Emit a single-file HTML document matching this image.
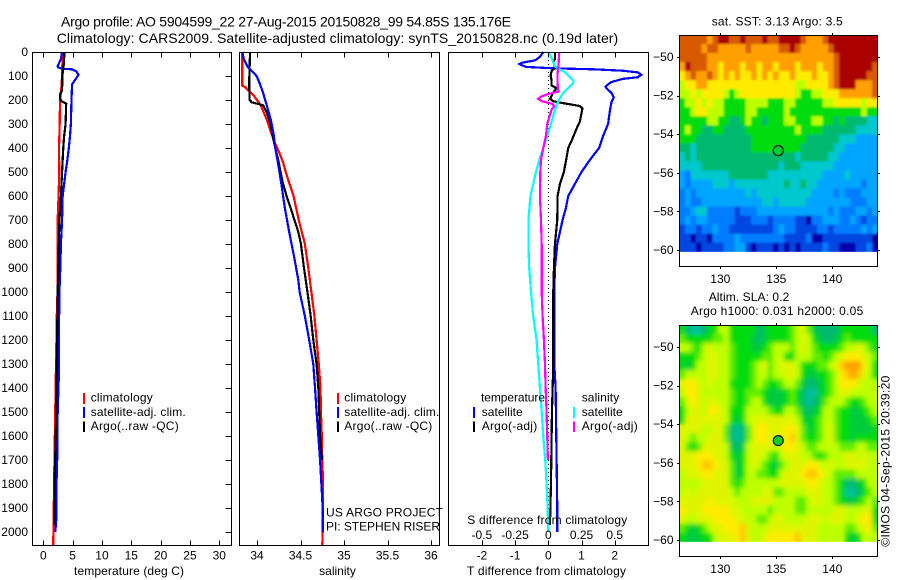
<!DOCTYPE html>
<html>
<head>
<meta charset="utf-8">
<title>Argo profile</title>
<style>
html,body{margin:0;padding:0;background:#fff;width:900px;height:580px;overflow:hidden}
svg{display:block}
text{font-family:"Liberation Sans",sans-serif;font-size:12px;fill:#000}
.t{font-size:14px}
.m{text-anchor:middle}
.e{text-anchor:end}
</style>
</head>
<body>
<svg id="chart" width="900" height="580" viewBox="0 0 900 580" xmlns="http://www.w3.org/2000/svg">
<defs>
<clipPath id="clip-map-sst"><rect x="679.5" y="35.5" width="198" height="216.2"/></clipPath>
<clipPath id="clip-map-sla"><rect x="679.5" y="325.5" width="198" height="216.2"/></clipPath>
<filter id="soft" x="-5%" y="-5%" width="110%" height="110%"><feGaussianBlur stdDeviation="2.4"/></filter>
<filter id="soft-small" x="-5%" y="-5%" width="110%" height="110%"><feGaussianBlur stdDeviation="1.1"/></filter>
</defs>
<text class="t" x="61" y="26.7" textLength="450">Argo profile: AO 5904599_22 27-Aug-2015 20150828_99 54.85S 135.176E</text>
<text class="t" x="56.7" y="43" textLength="561.5">Climatology: CARS2009. Satellite-adjusted climatology: synTS_20150828.nc (0.19d later)</text>

<g id="lines-layer"></g>
<g id="axes-layer"></g>

<text class="m" x="129" y="575" textLength="110">temperature (deg C)</text>
<text class="m" x="337.5" y="575">salinity</text>
<text class="m" x="546.5" y="575" textLength="159">T difference from climatology</text>
<text x="467.3" y="524" textLength="160">S difference from climatology</text>

<g>
<rect x="83" y="393" width="2" height="11" fill="#f00"/>
<rect x="83" y="407" width="2" height="11" fill="#00f"/>
<rect x="83" y="421.5" width="2" height="10.5" fill="#000"/>
<text x="90.7" y="401.7" textLength="62">climatology</text>
<text x="90.7" y="416" textLength="95">satellite-adj. clim.</text>
<text x="90.7" y="430" textLength="88">Argo(..raw -QC)</text>
</g>
<g>
<rect x="337" y="393" width="2" height="11" fill="#f00"/>
<rect x="337" y="407" width="2" height="11" fill="#00f"/>
<rect x="337" y="421.5" width="2" height="10.5" fill="#000"/>
<text x="344.3" y="401.7" textLength="62">climatology</text>
<text x="344.3" y="416" textLength="95">satellite-adj. clim.</text>
<text x="344.3" y="430" textLength="88">Argo(..raw -QC)</text>
</g>
<text x="326" y="516.7" textLength="117">US ARGO PROJECT</text>
<text x="326" y="530.7" textLength="114">PI: STEPHEN RISER</text>
<g>
<text x="481" y="401.7" textLength="64">temperature</text>
<text x="581.7" y="401.7" textLength="37.5">salinity</text>
<rect x="473" y="407" width="2" height="11" fill="#00f"/>
<rect x="473" y="421.5" width="2" height="10.5" fill="#000"/>
<rect x="573" y="407" width="2" height="11" fill="#0ff"/>
<rect x="573" y="421.5" width="2" height="10.5" fill="#f0f"/>
<text x="481.7" y="416" textLength="41">satellite</text>
<text x="481.7" y="430" textLength="55.5">Argo(-adj)</text>
<text x="581.7" y="416" textLength="41">satellite</text>
<text x="581.7" y="430" textLength="56">Argo(-adj)</text>
</g>

<g clip-path="url(#clip-map-sst)"><g id="sst-cells"></g><use href="#sst-cells" filter="url(#soft-small)"/></g>
<g clip-path="url(#clip-map-sla)"><g id="sla-cells"></g><use href="#sla-cells" filter="url(#soft)"/></g>
<g id="map-axes"></g>

<text x="711.7" y="25.7" textLength="131">sat. SST: 3.13 Argo: 3.5</text>
<text x="708.7" y="301" textLength="80.6">Altim. SLA: 0.2</text>
<text x="690.7" y="315" textLength="172.6">Argo h1000: 0.031 h2000: 0.05</text>
<text x="889.3" y="546.7" transform="rotate(-90 889.3 546.7)" textLength="171">©IMOS 04-Sep-2015 20:39:20</text>
</svg>

<script>
// ---- profile data ----
const depthTicks = [0,100,200,300,400,500,600,700,800,900,1000,1100,1200,1300,1400,1500,1600,1700,1800,1900,2000];
const tempTicks = [0,5,10,15,20,25,30];
const salTicks = [34,34.5,35,35.5,36];
const salTickLabels = ["34","34.5","35","35.5","36"];
const dTTicks = [-2,-1,0,1,2];
const dSTicks = [-0.5,-0.25,0,0.25,0.5];
const dSTickLabels = ["-0.5","-0.25","0","0.25","0.5"];

const tempClimDepth = [0,100,150,200,300,400,500,600,700,800,1000,1100,1400,1700,2000,2056];
const tempClimValue = [3.3,3.2,3.07,2.85,2.79,2.68,2.72,2.6,2.45,2.42,2.42,2.3,2.1,1.9,1.72,1.7];
const tempSatDepth = [0,30,60,65,70,72,80,95,110,135,200,300,350,400,450,500,550,600,700,800,900,1000,1100,1350,1500,1650,1800,1950,2000];
const tempSatValue = [3.2,3.0,2.43,2.6,3.3,4.9,5.6,6.0,5.6,4.9,4.8,4.7,4.55,4.35,4.1,3.8,3.55,3.3,3.2,3.0,2.9,2.75,2.7,2.65,2.45,2.42,2.25,2.2,2.05];
const tempArgoDepth = [0,50,100,160,175,195,205,215,300,350,400,500,600,700,800,900,1000,1200,1400,1600,1800,1970];
const tempArgoValue = [3.6,3.5,3.25,3.2,2.9,2.85,3.1,3.9,3.8,3.55,3.4,3.2,3.0,2.75,2.65,2.55,2.45,2.35,2.25,2.12,1.92,1.92];

const salClimDepth = [0,140,145,160,180,220,280,330,380,420,460,500,600,700,800,900,1000,1100,1200,1300,1400,1500,1600,1700,1800,2000,2056];
const salClimValue = [33.83,33.83,33.86,33.9,33.96,34.04,34.11,34.157,34.207,34.257,34.3,34.33,34.42,34.48,34.55,34.59,34.625,34.66,34.685,34.71,34.73,34.735,34.745,34.75,34.76,34.755,34.75];
const salSatDepth = [0,30,60,80,100,130,170,220,280,340,400,460,550,650,750,850,950,1000,1100,1200,1300,1400,1500,1600,1700,1800,1900,2000];
const salSatValue = [33.83,33.85,33.89,33.94,33.995,34.03,34.07,34.11,34.157,34.19,34.21,34.24,34.28,34.32,34.37,34.425,34.475,34.49,34.55,34.6,34.647,34.667,34.685,34.705,34.725,34.74,34.755,34.755];
const salArgoDepth = [0,130,200,210,215,222,250,300,350,400,450,500,550,600,650,700,750,800,900,1000,1100,1200,1300,1400,1500,1600,1700];
const salArgoValue = [33.92,33.91,33.915,33.94,34,34.07,34.11,34.157,34.18,34.21,34.245,34.27,34.3,34.34,34.387,34.43,34.475,34.505,34.54,34.58,34.617,34.647,34.685,34.705,34.715,34.725,34.747];

const dTSatDepth = [0,20,35,45,50,55,62,68,72,78,85,95,105,112,125,135,145,155,170,190,210,250,300,350,400,450,500,550,600,650,700,800,900,1000,1300,1400,1700,1900,2000];
const dTSatValue = [-0.15,-0.25,-0.4,-0.8,-0.87,-0.8,-0.67,0.15,1.35,2.25,2.7,2.8,2.7,2.25,1.9,1.8,1.72,1.78,1.9,1.97,1.9,1.85,1.8,1.65,1.53,1.25,1.0,0.8,0.6,0.53,0.43,0.27,0.2,0.18,0.18,0.22,0.25,0.27,0.27];
const dTArgoDepth = [0,30,40,65,80,95,120,140,150,170,195,205,212,225,235,290,320,370,400,440,500,550,600,700,800,900,1000,1300,1500,1800,1970];
const dTArgoValue = [0.2,0.2,0.15,0.2,0.1,0.07,0.1,0.1,0.25,0.15,0.05,0.15,0.4,0.95,1.03,0.95,0.85,0.7,0.6,0.55,0.47,0.35,0.28,0.27,0.2,0.17,0.15,0.15,0.11,0.08,0.05];
const dSSatDepth = [0,20,60,85,105,120,132,150,170,190,220,250,300,350,400,450,500,600,700,800,900,1000,1100,1200,1300,1400,1500,1600,1700,1800,1900,2000];
const dSSatValue = [0,0.02,0.05,0.126,0.164,0.19,0.184,0.15,0.114,0.09,0.063,0.045,0.02,-0.008,-0.038,-0.068,-0.093,-0.134,-0.15,-0.15,-0.144,-0.13,-0.114,-0.088,-0.076,-0.063,-0.05,-0.038,-0.023,-0.013,-0.005,0];
const dSArgoDepth = [0,60,90,130,165,175,185,195,205,215,225,240,270,300,350,400,450,500,600,700,800,900,1000,1100,1200,1300,1400,1500,1600,1700];
const dSArgoValue = [0.083,0.076,0.07,0.07,0.076,0,-0.05,-0.076,-0.05,0.025,0.045,0.025,0.008,-0.008,-0.018,-0.038,-0.055,-0.06,-0.063,-0.055,-0.05,-0.05,-0.05,-0.043,-0.033,-0.025,-0.02,-0.013,-0.008,-0.003];

// ---- map data (colour-level per cell) ----
const mapLonTicks = [130,135,140];
const mapLatTicks = [-50,-52,-54,-56,-58,-60];
const floatLon = 135.176;
const floatLat = -54.85;
const colorStops = ["0,0,170","0,70,225","0,125,255","0,165,255","0,200,205","0,185,110","0,220,10","190,255,0","255,235,0","255,160,0","215,90,0","170,0,0"];
const sstLevels = [
[10,10,10,10,10,9,10,11,11,10,10,11,10,10,10,11,10,10,11,11,11,11,10,9,9,9,10,11,11,11,11,11,11,11,11,11],
[10,10,10,10,9,10,10,9,9,9,9,9,10,9,9,9,9,9,10,10,11,10,9,9,9,9,9,10,11,11,11,11,11,11,11,11],
[10,10,10,10,10,9,9,9,9,9,9,9,9,9,9,9,9,9,9,9,9,9,9,9,9,9,9,9,10,11,11,11,11,11,11,11],
[9,11,10,10,10,9,9,8,9,9,9,8,9,9,8,9,9,8,9,9,9,8,9,9,9,8,9,9,10,11,11,11,11,11,11,10],
[8,9,10,9,9,10,9,8,9,8,9,8,8,9,8,9,8,9,8,8,9,8,8,8,9,8,8,9,10,11,11,11,11,11,10,10],
[7,8,8,9,9,8,8,8,8,8,8,8,8,8,8,8,8,8,8,8,8,7,7,8,8,8,8,9,10,11,11,11,9,9,9,10],
[7,7,8,7,8,8,8,8,7,6,7,8,8,8,8,8,8,8,8,8,8,7,6,6,7,7,8,8,8,9,9,9,9,9,9,10],
[6,7,7,8,7,8,7,7,6,6,6,6,7,7,7,7,6,6,6,7,7,6,6,6,6,6,7,7,8,8,8,8,8,7,8,8],
[6,6,7,8,8,7,7,7,6,6,6,6,7,7,6,6,6,6,6,7,6,6,6,6,6,6,6,6,6,6,6,6,6,7,6,6],
[6,6,6,6,6,7,7,6,6,5,5,6,7,6,6,5,6,6,6,7,7,6,6,6,7,7,6,6,5,6,5,5,5,5,4,4],
[6,7,6,6,5,5,6,6,5,5,5,5,6,6,6,6,6,6,6,6,6,7,6,6,6,6,5,5,5,5,5,5,4,4,4,4],
[6,6,6,5,5,5,5,5,5,5,5,5,5,6,6,6,6,6,6,6,6,6,6,5,5,5,5,5,5,4,4,4,3,3,3,3],
[5,5,4,5,5,5,5,5,5,5,5,5,5,6,6,6,6,6,6,6,6,6,5,5,5,5,5,5,4,4,3,3,3,3,3,3],
[4,5,4,5,5,5,5,5,5,5,5,5,5,5,5,5,5,5,5,5,5,4,5,5,5,5,5,4,4,3,3,3,3,3,3,3],
[4,4,4,4,5,5,5,5,5,5,5,5,5,5,5,5,5,5,4,5,5,5,4,4,4,4,4,4,3,3,3,3,3,3,3,3],
[3,2,4,4,4,4,4,4,4,5,5,5,5,5,5,5,4,4,4,4,4,4,4,4,4,4,3,3,3,3,4,3,3,3,3,3],
[3,2,3,3,3,3,4,4,4,3,4,4,4,4,4,4,4,4,4,5,4,4,5,4,4,3,3,3,3,3,3,3,3,2,3,3],
[2,3,2,3,3,3,3,3,3,3,3,3,4,3,4,4,4,4,4,4,4,4,4,4,3,3,3,3,2,3,2,2,2,3,3,3],
[2,3,2,2,3,3,3,3,3,3,3,3,3,3,3,4,4,3,4,4,4,4,4,3,3,3,3,3,3,3,3,2,2,2,3,3],
[2,2,3,4,4,2,2,2,2,2,1,2,2,2,3,3,3,3,3,3,3,3,3,3,3,3,3,2,3,2,2,2,3,3,2,3],
[2,3,2,3,3,2,2,2,2,2,1,1,1,2,2,2,1,2,2,2,2,1,1,0,2,2,3,3,3,2,2,3,2,1,2,2],
[1,2,2,1,2,2,3,2,2,1,1,1,1,1,1,1,1,2,3,2,2,1,1,1,1,2,2,1,2,2,2,2,2,3,2,3],
[1,1,0,1,1,0,2,2,2,2,3,2,2,2,2,2,2,2,2,1,1,1,1,2,0,0,1,1,1,1,1,1,1,1,1,0],
[1,1,1,0,1,1,1,1,2,2,3,3,1,0,1,1,1,0,1,0,1,0,1,1,1,1,2,1,1,0,0,0,1,1,2,0]
];
const slaLevels = [
[6,5,4.5,4.5,5,6,6,7,7,6,6,6,6,6,5,5.5,6,6,6,6,6.5,7,7.5,6.5,5.5,5,5,5,5,6,6,6,6,6,6,5],
[6.5,6,6,6,6,6,6.5,6.5,7,6,6,6,6,5.5,5,5.5,6,6,6,6,6.5,7,7.5,7,6,5.5,5,5,5.5,6,6.5,6,6,6,6,6],
[7,7,6.5,6,7,7.5,7,7,7,6.5,6,6,6,5.5,5.5,6,6.5,7,7,7,6.5,7,7.5,7,6.5,6,6,6,6,6.5,7,7,7.5,7,6.5,6],
[6,6,6,6.5,7,7.5,7.5,7,7,6.5,6,6,6,6,6,6.5,6.5,7,7,6,6,7,7,7,6.5,6.5,6,6.5,7,7.5,8,8,8,7.5,7,6.5],
[6,5.5,6,7,7,7.5,7.5,7,7,6.5,6,6,6,6.5,7,7.5,6.5,7,7.5,7.5,7.5,7,6,6,6,6.5,6.5,7,7.5,8.5,9,9,9,8,7,6],
[6.5,7,7,7,7,7.5,7.5,7,7,6.5,6,6,6,6.5,7,7,6.5,7,7,7.5,7.5,7,6,5.5,5.5,6,6,6.5,7,8,8.5,9,8.5,7.5,7,6],
[7.5,8,8,7.5,7,7.5,7,7,7,6,6,6,6,6.5,7,6.5,6,6,6.5,7,7,6.5,5.5,5,5,5.5,6,6.5,7,8,8,8,7.5,7,7,7],
[7,8,8,7.5,7,7,7,7,7,6.5,6,6,6.5,6.5,6.5,6,5.5,5.5,5.5,6,6.5,6,5,4.5,4.5,5.5,6,6.5,7,7.5,7.5,7,7,7,7,7],
[6.5,7.5,8,7.5,7,7.5,7.5,7,7,6.5,6,6,6.5,7,7,6,5.5,5.5,5.5,6,6.5,6,5,4.5,5,5.5,6.5,7,7,7,6.5,6,6,6.5,7,7],
[6,7,7.5,7.5,7,8,8,7.5,7,6,6,6,7,7,7,7,6.5,6,6,7,7,6.5,5.5,5,5.5,6,7,7,6.5,6,6,5.5,5.5,6,6.5,7],
[6,7.5,7.5,7.5,7.5,7.5,7.5,7.5,7,6,5.5,6,7,7.5,7.5,7.5,7.5,7.5,7.5,7.5,7.5,7,6,5.5,6,6.5,7,7,6.5,6,6,5.5,5.5,5.5,6,6.5],
[7.5,7.5,7.5,7.5,7,7,7.5,7.5,6.5,5,4.5,5,6.5,7.5,8,8,7.5,7.5,7.5,8,8,7.5,6.5,5.5,6,6.5,7,7.5,6.5,6,6,5.5,5.5,5.5,5.5,6],
[7.5,7,6.5,7,7,7.5,7.5,7.5,6.5,5,4.5,5,6.5,7.5,8,8,7.5,7.5,7.5,8,8.5,7.5,6.5,6,6,6.5,7,7.5,6.5,6,6,5.5,6,6,6,6],
[7.5,6.5,6,6.5,7.5,7.5,7.5,7.5,7,5.5,5,5.5,7,7.5,7.5,7.5,7.5,7,7.5,8,8,7.5,7,6.5,6.5,7,7,7,7,6.5,6.5,6.5,7,7,6.5,6.5],
[7.5,7.5,7.5,8,8,8,7.5,7.5,7,6,5.5,6,7,7.5,7.5,7,6.5,6,7,7.5,7.5,7.5,7,7,6.5,6,6.5,7,7,7,7.5,7.5,7,7.5,7,7],
[7.5,7.5,7.5,8,8.5,8.5,8,7.5,7.5,6.5,5.5,6,7,7.5,7,6.5,6,5.5,6.5,7,7.5,7.5,7.5,8,8,7.5,7,7.5,7,7,7.5,7.5,7.5,7.5,7,7],
[7,7.5,7.5,7.5,8,8,7.5,7.5,7.5,6.5,5.5,6,7,7,6.5,6.5,6,6,7,7.5,7.5,7.5,8,8.5,8.5,8,7.5,7,6.5,6.5,6.5,6.5,7,7,7,7],
[7,7,7,7,7.5,7.5,7.5,7.5,7.5,6.5,6,6.5,7,7,7,7,7,7,7.5,7.5,7.5,7.5,7.5,8,8,7.5,7,7,6.5,6,5,5,5.5,6,7,7],
[7,7.5,7,7.5,7.5,7.5,7.5,7.5,7.5,7,6.5,7,7,7,7,7.5,7.5,6.5,6.5,7,7,7,7,7.5,7.5,7.5,7,7,6.5,6,4.5,4.5,5,6,6.5,7],
[7.5,7.5,7.5,7.5,7.5,8,7.5,7.5,7.5,7.5,7,7,7,7.5,7.5,7.5,7.5,7,7,7,7,6.5,6.5,7,7.5,7.5,7,7,6.5,6,5.5,5.5,6,6.5,7,6.5],
[8,7.5,7.5,7.5,8,8,8,8,8,7.5,7.5,7,7,7,7,7,6.5,7,7,7,7,6.5,6.5,7,7,7,7,7,7.5,7.5,7,7,7,7.5,7.5,6],
[7.5,7,7,7.5,7.5,7.5,8,8,8,8,7.5,7.5,7,7,6.5,6.5,7,7.5,7.5,7,7,7,7,7.5,7.5,7.5,7,7.5,7.5,7.5,7,7,7.5,8,8,6],
[6.5,6,5.5,6,6.5,7,7.5,7.5,8,8,8,8.5,7.5,7,7,7,7.5,7.5,7.5,7.5,7.5,7.5,7.5,7.5,7.5,7,7,7,7,7,6.5,6.5,7,7.5,8,6.5],
[6,5.5,5.5,5.5,6,6,7,7.5,7.5,7.5,8,8.5,7.5,7,7,7.5,8,8,8,8,8,8.5,7.5,7.5,7.5,7,7,7,7,7,6,5.5,6,7,7,7]
];

// ---- axis functions ----
const SVGNS = "http://www.w3.org/2000/svg";
const yDepth = d => 52 + d * 0.24;
const xTemp = v => 43.3 + v * 5.867;
const xSal = v => 257 + (v - 34) * 87;
const xDT = v => 548.3 + v * 33.2;
const xDS = v => 548.3 + v * 132.8;
const xLon = v => 776.3 + (v - 135) * 11.2;
const yLatSst = v => 57 + (-50 - v) * 19.3;
const yLatSla = v => 347 + (-50 - v) * 19.3;

function make(tag, parent, props) {
  const el = document.createElementNS(SVGNS, tag);
  for (const k in props) el.setAttribute(k, props[k]);
  parent.appendChild(el);
  return el;
}
function drawLine(parent, depths, values, xf, color, name) {
  const pts = depths.map((d, i) => xf(values[i]).toFixed(2) + "," + yDepth(d).toFixed(2)).join(" ");
  const el = make("polyline", parent, {points: pts, fill: "none", stroke: color, "stroke-width": 2.2, "stroke-linejoin": "miter", "shape-rendering": "crispEdges"});
  
  
}
function drawTick(parent, x1, y1, x2, y2) {
  const el = make("line", parent, {x1: x1, y1: y1, x2: x2, y2: y2, stroke: "#000", "stroke-width": 1, "shape-rendering": "crispEdges"});
  
  
}
function drawLabel(parent, x, y, str, anchor) {
  const el = make("text", parent, {x: x, y: y, "text-anchor": anchor});
  el.textContent = str;
  
  
}
function drawFrame(parent, x, y, w, h, name) {
  const el = make("rect", parent, {x: x, y: y, width: w, height: h, fill: "none", stroke: "#000", "stroke-width": 1, "shape-rendering": "crispEdges"});
  
  
}

const linesLayer = document.getElementById("lines-layer");
const axesLayer = document.getElementById("axes-layer");

// zero reference in the difference panel
const zeroLine = make("line", linesLayer, {x1: xDT(0), x2: xDT(0), y1: 52, y2: yDepth(2000), stroke: "#000", "stroke-width": 1, "stroke-dasharray": "1 3", "shape-rendering": "crispEdges"});



drawLine(linesLayer, tempClimDepth, tempClimValue, xTemp, "#f00", "temperature-climatology-line");
drawLine(linesLayer, tempSatDepth, tempSatValue, xTemp, "#00f", "temperature-satellite-line");
drawLine(linesLayer, tempArgoDepth, tempArgoValue, xTemp, "#000", "temperature-argo-line");
drawLine(linesLayer, salClimDepth, salClimValue, xSal, "#f00", "salinity-climatology-line");
drawLine(linesLayer, salArgoDepth, salArgoValue, xSal, "#000", "salinity-argo-line");
drawLine(linesLayer, salSatDepth, salSatValue, xSal, "#00f", "salinity-satellite-line");
drawLine(linesLayer, dTSatDepth, dTSatValue, xDT, "#00f", "t-difference-satellite-line");
drawLine(linesLayer, dTArgoDepth, dTArgoValue, xDT, "#000", "t-difference-argo-line");
drawLine(linesLayer, dSSatDepth, dSSatValue, xDS, "#0ff", "s-difference-satellite-line");
drawLine(linesLayer, dSArgoDepth, dSArgoValue, xDS, "#f0f", "s-difference-argo-line");

// panel frames
drawFrame(axesLayer, 32.5, 52.5, 199, 493, "temperature-plot-frame");
drawFrame(axesLayer, 239.5, 52.5, 200, 493, "salinity-plot-frame");
drawFrame(axesLayer, 448.5, 52.5, 200, 493, "difference-plot-frame");

depthTicks.forEach(d => {
  drawTick(axesLayer, 225.5, Math.round(yDepth(d)) + 0.5, 231.5, Math.round(yDepth(d)) + 0.5);
  drawLabel(axesLayer, 28, yDepth(d) + 4, String(d), "end");
});
function bottomAxis(ticks, labels, xf) {
  ticks.forEach((t, i) => {
    const x = Math.round(xf(t)) + 0.5;
    drawTick(axesLayer, x, 52.5, x, 57.5);
    drawTick(axesLayer, x, 540.5, x, 545.5);
    drawLabel(axesLayer, xf(t), 559.3, labels[i], "middle");
  });
}
bottomAxis(tempTicks, tempTicks.map(String), xTemp);
bottomAxis(salTicks, salTickLabels, xSal);
bottomAxis(dTTicks, dTTicks.map(String), xDT);
dSTicks.forEach((t, i) => drawLabel(axesLayer, xDS(t), 539, dSTickLabels[i], "middle"));

// heatmaps
function levelColor(v) {
  const lo = Math.max(0, Math.min(colorStops.length - 1, Math.floor(v)));
  const hi = Math.min(colorStops.length - 1, lo + 1);
  const f = v - lo;
  const a = colorStops[lo].split(",").map(Number);
  const b = colorStops[hi].split(",").map(Number);
  return "rgb(" + a.map((c, i) => Math.round(c + (b[i] - c) * f)).join(",") + ")";
}
const lonStart = 126.36, lonEnd = 144.05, latTop = -48.86, latBottom = -60.09;
function drawCells(groupId, levels, yLat, name) {
  const g = document.getElementById(groupId);
  const nR = levels.length;
  levels.forEach((row, r) => {
    const nC = row.length;
    row.forEach((v, c) => {
      const x0 = xLon(lonStart + (lonEnd - lonStart) * c / nC);
      const x1 = xLon(lonStart + (lonEnd - lonStart) * (c + 1) / nC);
      const y0 = yLat(latTop + (latBottom - latTop) * r / nR);
      const y1 = yLat(latTop + (latBottom - latTop) * (r + 1) / nR);
      const cell = make("rect", g, {x: x0.toFixed(2), y: y0.toFixed(2), width: (x1 - x0 + 0.4).toFixed(2), height: (y1 - y0 + 0.4).toFixed(2), fill: levelColor(v)});
      
      
    });
  });
}
drawCells("sst-cells", sstLevels, yLatSst, "sst-cell");
drawCells("sla-cells", slaLevels, yLatSla, "sla-cell");

// map axes
const mapAxes = document.getElementById("map-axes");
function drawMapAxes(top, bottom, yLat, name) {
  drawFrame(mapAxes, 679.5, top + 0.5, 198, bottom - top, name);
  mapLonTicks.forEach(t => {
    const x = Math.round(xLon(t)) + 0.5;
    drawTick(mapAxes, x, top - 2, x, top + 0.5);
    drawTick(mapAxes, x, bottom + 0.5, x, bottom + 3);
    drawLabel(mapAxes, xLon(t), bottom + 17, String(t), "middle");
  });
  mapLatTicks.forEach(t => {
    const y = Math.round(yLat(t)) + 0.5;
    drawTick(mapAxes, 677, y, 679.5, y);
    drawTick(mapAxes, 877.5, y, 880, y);
    drawLabel(mapAxes, 673.5, yLat(t) + 4, "\u2212" + Math.abs(t), "end");
  });
  const dot = make("circle", mapAxes, {cx: xLon(floatLon), cy: yLat(floatLat), r: 5, fill: "#00d030", stroke: "#000", "stroke-width": 1.1});
  
  
}
drawMapAxes(35, 266, yLatSst, "sst-map-frame");
drawMapAxes(325, 556, yLatSla, "sla-map-frame");
</script>
</body>
</html>
